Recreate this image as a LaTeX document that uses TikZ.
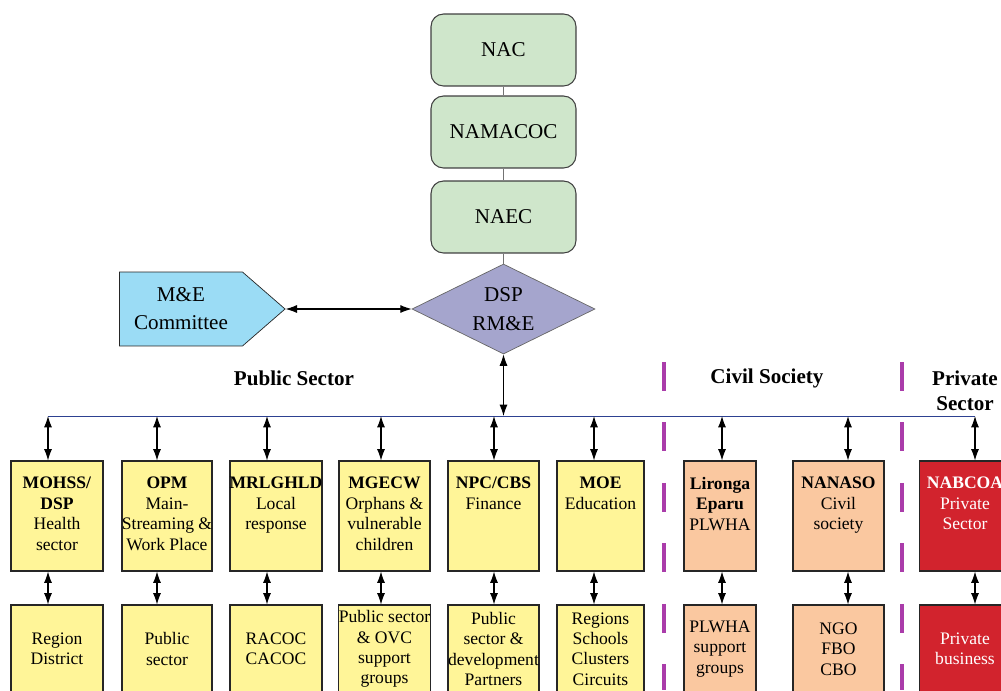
\documentclass[tikz,border=0pt]{standalone}
\usepackage{fontspec}
\setmainfont{Liberation Serif}
\usepackage{tikz}
\usetikzlibrary{arrows.meta,shapes.geometric,shapes.symbols}

\definecolor{boxyellow}{RGB}{255,245,152}
\definecolor{boxorange}{RGB}{250,200,160}
\definecolor{boxred}{RGB}{210,35,45}
\definecolor{boxgreen}{RGB}{207,230,203}
\definecolor{boxblue}{RGB}{155,220,245}
\definecolor{boxviolet}{RGB}{165,165,205}
\definecolor{busblue}{RGB}{45,65,145}
\definecolor{sepmagenta}{RGB}{170,60,170}

\begin{document}
\begin{tikzpicture}[x=0.02cm,y=-0.02cm,>={Latex[length=6.5pt,width=4.6pt]},
    box/.style={draw=black!85,line width=0.6pt,rectangle,inner sep=0pt},
    ubox/.style={box,minimum height=2.2cm},
    lbox/.style={box,minimum height=1.76cm,align=center,font=\fontsize{10}{11.6}\selectfont},
    utext/.style={anchor=north,yshift=-6pt,align=center,font=\fontsize{10}{11.6}\selectfont},
    topbox/.style={draw=black!75,line width=0.6pt,fill=boxgreen,rounded corners=0.25cm,
        minimum width=2.9cm,minimum height=1.44cm,font=\fontsize{12}{14}\selectfont},
    sect/.style={font=\fontsize{12}{14.5}\selectfont\bfseries,align=center},
    link/.style={<->,line width=0.6pt},
    sepline/.style={sepmagenta,line width=2.2pt,dash pattern=on 0.58cm off 0.63cm}
    ]
    \useasboundingbox (0,0) rectangle (1001,690);
    \clip (0,0) rectangle (1001,690);

    % top of the chart
    \node[topbox] (nac)     at (503.5,50)  {NAC};
    \node[topbox] (namacoc) at (503.5,132) {NAMACOC};
    \node[topbox] (naec)    at (503.5,217) {NAEC};
    \node[draw=black!60,fill=boxviolet,diamond,minimum width=3.66cm,minimum height=1.8cm,
        inner sep=0pt,
        label={[align=center,font=\fontsize{12}{16.5}\selectfont]center:{DSP\\RM\&E}}]
        (dsp) at (503.5,309) {};
    \node[draw=black!85,fill=boxblue,signal,signal to=east,signal pointer angle=82,
        minimum height=1.48cm,text width=2.2cm,inner xsep=0.13cm,align=center,
        font=\fontsize{12}{16}\selectfont]
        (mec) at (181,309) {M\&E\\Committee};

    \path[draw=black!55,line width=0.6pt]
        (nac) -- (namacoc)
        (namacoc) -- (naec)
        (naec) -- (dsp);
    \draw[link] (mec.east) -- (dsp.west);

    % sector labels
    \node[sect] (pubsec)  at (294,378) {Public Sector};
    \node[sect] (civsec)  at (767,378) {Civil Society};
    \node[sect] (privsec) at (965,391) {Private\\Sector};
    \draw[sepline] (664,362) -- (664,690);
    \draw[sepline] (902,362) -- (902,690);

    % bus
    \coordinate (bus)  at (503.5,416);
    \coordinate (b1) at (48,416);
    \coordinate (b2) at (157,416);
    \coordinate (b3) at (267,416);
    \coordinate (b4) at (381,416);
    \coordinate (b5) at (494,416);
    \coordinate (b6) at (594,416);
    \coordinate (b7) at (722,416);
    \coordinate (b8) at (848,416);
    \coordinate (b9) at (975,416);
    \draw[busblue,line width=0.5pt] (b1) -- (b9);
    \draw[link] (dsp.south) -- (bus);

    % upper row
    \node[ubox,fill=boxyellow,minimum width=1.84cm,
        label={[utext]north:{\textbf{MOHSS/}\\\textbf{DSP}\\Health\\sector}}] (mohss) at (57,516) {};
    \node[ubox,fill=boxyellow,minimum width=1.8cm,
        label={[utext]north:{\textbf{OPM}\\Main-\\Streaming \&\\Work Place}}] (opm) at (167,516) {};
    \node[ubox,fill=boxyellow,minimum width=1.84cm,
        label={[utext]north:{\textbf{MRLGHLD}\\Local\\response}}] (mrlghld) at (276,516) {};
    \node[ubox,fill=boxyellow,minimum width=1.82cm,
        label={[utext]north:{\textbf{MGECW}\\Orphans \&\\vulnerable\\children}}] (mgecw) at (384.5,516) {};
    \node[ubox,fill=boxyellow,minimum width=1.82cm,
        label={[utext]north:{\textbf{NPC/CBS}\\Finance}}] (npc) at (493.5,516) {};
    \node[ubox,fill=boxyellow,minimum width=1.74cm,
        label={[utext]north:{\textbf{MOE}\\Education}}] (moe) at (600.5,516) {};
    \node[ubox,fill=boxorange,minimum width=1.44cm,
        label={[utext]north:{\textbf{Lironga}\\\textbf{Eparu}\\PLWHA}}] (lironga) at (720,516) {};
    \node[ubox,fill=boxorange,minimum width=1.82cm,
        label={[utext]north:{\textbf{NANASO}\\Civil\\society}}] (nanaso) at (838.5,516) {};
    \node[ubox,fill=boxred,minimum width=1.82cm,
        label={[utext,white]north:{\textbf{NABCOA}\\Private\\Sector}}] (nabcoa) at (965,516) {};

    % lower row
    \node[lbox,fill=boxyellow,minimum width=1.84cm] (region)   at (57,649)    {Region\\District};
    \node[lbox,fill=boxyellow,minimum width=1.8cm]  (public)   at (167,649)   {Public\\sector};
    \node[lbox,fill=boxyellow,minimum width=1.84cm] (racoc)    at (276,649)   {RACOC\\CACOC};
    \node[lbox,fill=boxyellow,minimum width=1.82cm] (ovc)      at (384.5,649) {Public sector\\\& OVC\\support\\groups};
    \node[lbox,fill=boxyellow,minimum width=1.82cm] (partners) at (493.5,649) {Public\\sector \&\\development\\Partners};
    \node[lbox,fill=boxyellow,minimum width=1.74cm] (regions)  at (600.5,649) {Regions\\Schools\\Clusters\\Circuits};
    \node[lbox,fill=boxorange,minimum width=1.44cm] (plwha)    at (720,649)   {PLWHA\\support\\groups};
    \node[lbox,fill=boxorange,minimum width=1.82cm] (ngo)      at (838.5,649) {NGO\\FBO\\CBO};
    \node[lbox,fill=boxred,text=white,minimum width=1.82cm] (business) at (965,649) {Private\\business};

    \foreach \b/\u/\l in {b1/mohss/region,b2/opm/public,b3/mrlghld/racoc,b4/mgecw/ovc,
        b5/npc/partners,b6/moe/regions,b7/lironga/plwha,b8/nanaso/ngo,b9/nabcoa/business}{
        \draw[link] (\b) -- (\b |- \u.north);
        \draw[link] (\b |- \u.south) -- (\b |- \l.north);
    }
\end{tikzpicture}
\end{document}
